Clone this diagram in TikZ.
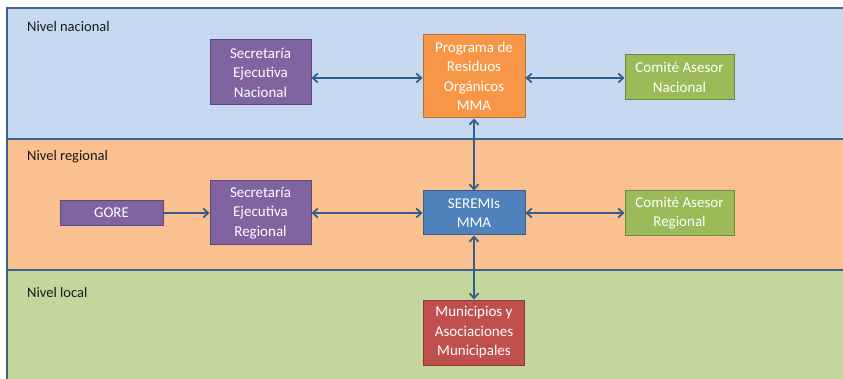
\documentclass[tikz,border=0pt]{standalone}
\usepackage{fontspec}
\setmainfont{Carlito}
\usetikzlibrary{arrows.meta,calc}

\definecolor{bandanac}{HTML}{C6D9F1}
\definecolor{bandareg}{HTML}{FAC090}
\definecolor{bandaloc}{HTML}{C3D69B}
\definecolor{bordebanda}{HTML}{3F6391}
\definecolor{flechacol}{HTML}{2F5D8C}
\definecolor{morado}{HTML}{8064A2}
\definecolor{moradoborde}{HTML}{5C4776}
\definecolor{naranja}{HTML}{F79646}
\definecolor{naranjaborde}{HTML}{B66D31}
\definecolor{verde}{HTML}{9BBB59}
\definecolor{verdeborde}{HTML}{71893F}
\definecolor{azul}{HTML}{4F81BD}
\definecolor{azulborde}{HTML}{385D8A}
\definecolor{rojo}{HTML}{C0504D}
\definecolor{rojoborde}{HTML}{8C3836}

\tikzset{
  caja/.style={draw, line width=1pt, inner sep=2pt, align=center, text=white,
    font=\fontsize{15}{19.5}\selectfont},
  flecha/.style={draw=flechacol, line width=1.7pt,
    {Straight Barb[length=5pt,width=9pt]}-{Straight Barb[length=5pt,width=9pt]}},
  flechauna/.style={draw=flechacol, line width=1.7pt,
    -{Straight Barb[length=5pt,width=9pt]}},
  nivel/.style={anchor=west, inner sep=0pt, text=black!90,
    font=\fontsize{14.5}{17}\selectfont},
  banda/.style={draw=bordebanda, line width=1.5pt},
}

\begin{document}
\begin{tikzpicture}[x=1pt,y=-1pt]
\useasboundingbox (0,0) rectangle (843,379);
\clip (0,0) rectangle (843,379);
% ==========================================
% bands
\fill[bandanac] (7,8) rectangle (860,139);
\fill[bandareg] (7,139) rectangle (860,270);
\fill[bandaloc] (7,270) rectangle (860,390);
\draw[banda] (860,8) -- (7,8) -- (7,390);
\draw[banda] (7,139) -- (860,139);
\draw[banda] (7,270) -- (860,270);
%
\node[nivel] (lnac) at (27,27) {Nivel nacional};
\node[nivel] (lreg) at (27,157) {Nivel regional};
\node[nivel] (lloc) at (27,293) {Nivel local};
% ==========================================
% nacional
\node[caja, fill=morado, draw=moradoborde, minimum width=101pt, minimum height=65pt] (secnac) at (260.5,72.5) {Secretaría\\Ejecutiva\\Nacional};
\node[caja, fill=naranja, draw=naranjaborde, minimum width=102pt, minimum height=83pt] (programa) at (474,76.5) {Programa de\\Residuos\\Orgánicos\\MMA};
\node[caja, fill=verde, draw=verdeborde, minimum width=109pt, minimum height=45pt] (comnac) at (679.5,77.5) {Comité Asesor\\Nacional};
% regional
\node[caja, fill=morado, draw=moradoborde, minimum width=103pt, minimum height=25pt] (gore) at (111.5,213) {GORE};
\node[caja, fill=morado, draw=moradoborde, minimum width=101pt, minimum height=64pt] (secreg) at (260.5,213) {Secretaría\\Ejecutiva\\Regional};
\node[caja, fill=azul, draw=azulborde, minimum width=102pt, minimum height=44pt] (seremis) at (474,213) {SEREMIs\\MMA};
\node[caja, fill=verde, draw=verdeborde, minimum width=109pt, minimum height=45pt] (comreg) at (679.5,213) {Comité Asesor\\Regional};
% local
\node[caja, fill=rojo, draw=rojoborde, minimum width=101pt, minimum height=65pt] (muni) at (474,332.5) {Municipios y\\Asociaciones\\Municipales};
% ==========================================
% arrows
\draw[flecha] (secnac.east |- 0,78) -- (programa.west |- 0,78);
\draw[flecha] (programa.east |- 0,78) -- (comnac.west |- 0,78);
\draw[flecha] (programa.south) -- (seremis.north);
\draw[flechauna] (gore.east) -- (secreg.west);%GORE only one way.
\draw[flecha] (secreg.east) -- (seremis.west);
\draw[flecha] (seremis.east) -- (comreg.west);
\draw[flecha] (seremis.south) -- (muni.north);
% ==========================================
\end{tikzpicture}
\end{document}
